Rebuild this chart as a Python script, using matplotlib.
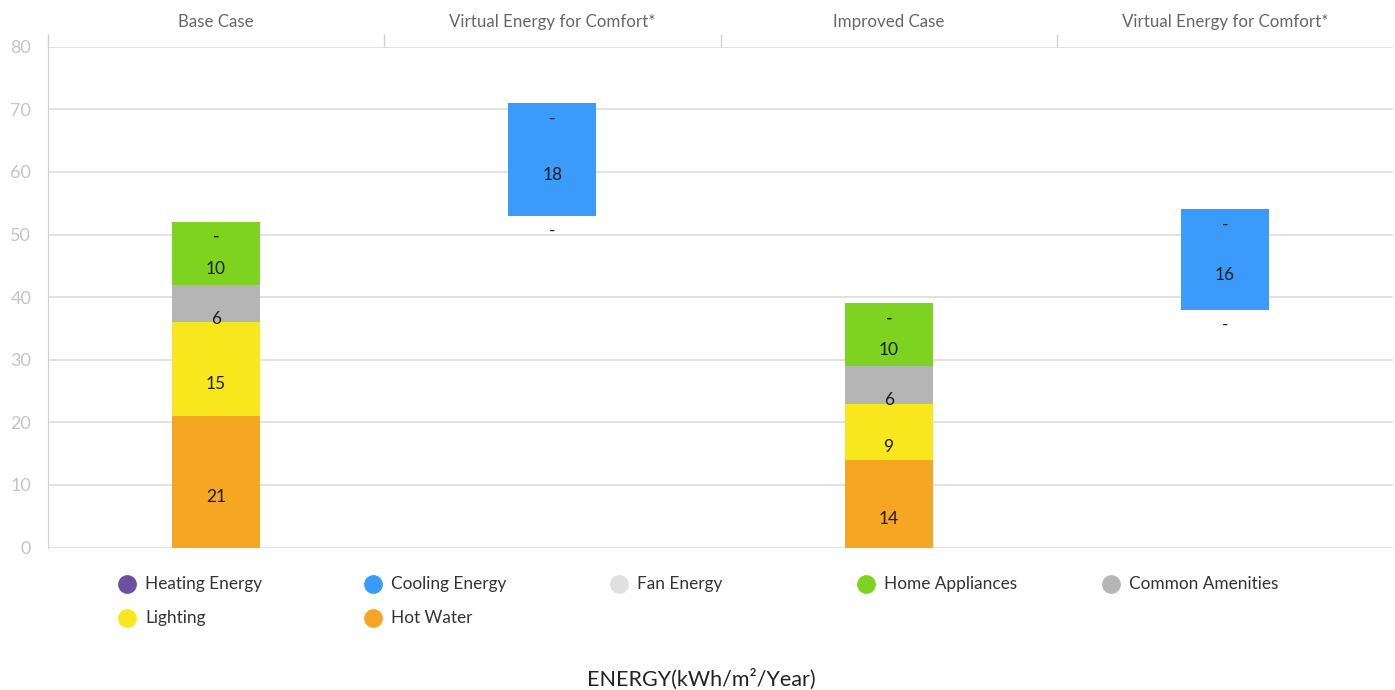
import matplotlib.pyplot as plt
from matplotlib.lines import Line2D

plt.rcParams['font.family'] = ['Lato', 'DejaVu Sans']

# columns and the floating start of each stack
columns = ["Base Case", "Virtual Energy for Comfort*", "Improved Case", "Virtual Energy for Comfort*"]
starts = [0, 53, 0, 38]

# series in legend order; None = no segment, 0 = empty segment shown as "-"
series = ["Heating Energy", "Cooling Energy", "Fan Energy", "Home Appliances",
          "Common Amenities", "Lighting", "Hot Water"]
heating = [0, 0, 0, 0]
cooling = [None, 18, None, 16]
fan = [0, 0, 0, 0]
home_appliances = [10, None, 10, None]
common_amenities = [6, None, 6, None]
lighting = [15, None, 9, None]
hot_water = [21, None, 14, None]

colors = ["#6a4fa3", "#3a9bfb", "#e0e0e0", "#7ed321", "#b5b5b5", "#f8e71c", "#f5a623"]
values = [heating, cooling, fan, home_appliances, common_amenities, lighting, hot_water]

fig = plt.figure(figsize=(13.95, 6.9), dpi=100)
ax = fig.add_axes([0.0344, 0.2065, 0.9642, 0.7258])

x = list(range(len(columns)))
bottoms = list(starts)
# stack from the bottom: reverse of legend order
for name, vals, col in reversed(list(zip(series, values, colors))):
    for i, v in enumerate(vals):
        if v is None:
            continue
        if v > 0:
            ax.bar(x[i], v, bottom=bottoms[i], width=0.262, color=col, zorder=2)
            label = str(v)
        else:
            label = "-"
        ax.annotate(label, (x[i], bottoms[i] + v / 2), xytext=(0, -11),
                    textcoords="offset points", ha="center", va="center",
                    fontsize=12.5, color="#1e1e1e", zorder=3)
        bottoms[i] += v

ax.set_xlim(-0.5, 3.5)
ax.set_ylim(0, 80)
ax.set_yticks(range(0, 81, 10))
ax.yaxis.grid(True, color="#d9d9d9", linewidth=1.1, zorder=0)
ax.tick_params(axis="y", length=0, pad=12, labelsize=13, labelcolor="#c4c4c4")

ax.xaxis.tick_top()
ax.set_xticks(x)
ax.set_xticklabels(columns)
ax.tick_params(axis="x", which="major", length=0, pad=12, labelsize=12.2, labelcolor="#666666")
ax.set_xticks([-0.5, 0.5, 1.5, 2.5], minor=True)
ax.tick_params(axis="x", which="minor", direction="out", length=9.5, width=1, color="#d0d0d0")

for side in ["top", "right", "bottom"]:
    ax.spines[side].set_visible(False)
ax.spines["left"].set_color("#d0d0d0")

# legend laid out in a fixed grid
legend_cols = [127, 373, 619, 866, 1111]
legend_rows = [584, 618]
W, H = 1395, 690
for k, (name, col) in enumerate(zip(series, colors)):
    px = legend_cols[k % 5]
    py = legend_rows[k // 5]
    fig.add_artist(Line2D([px / W], [1 - py / H], marker="o", markersize=12.5,
                          color=col, linestyle="none", transform=fig.transFigure))
    fig.text((px + 18) / W, 1 - py / H, name, ha="left", va="center",
             fontsize=12.4, color="#333333")

fig.text(701 / W, 1 - 679 / H, "ENERGY(kWh/m²/Year)", ha="center", va="center",
         fontsize=15.5, color="#222222")

fig.savefig("out.png", dpi=100)
